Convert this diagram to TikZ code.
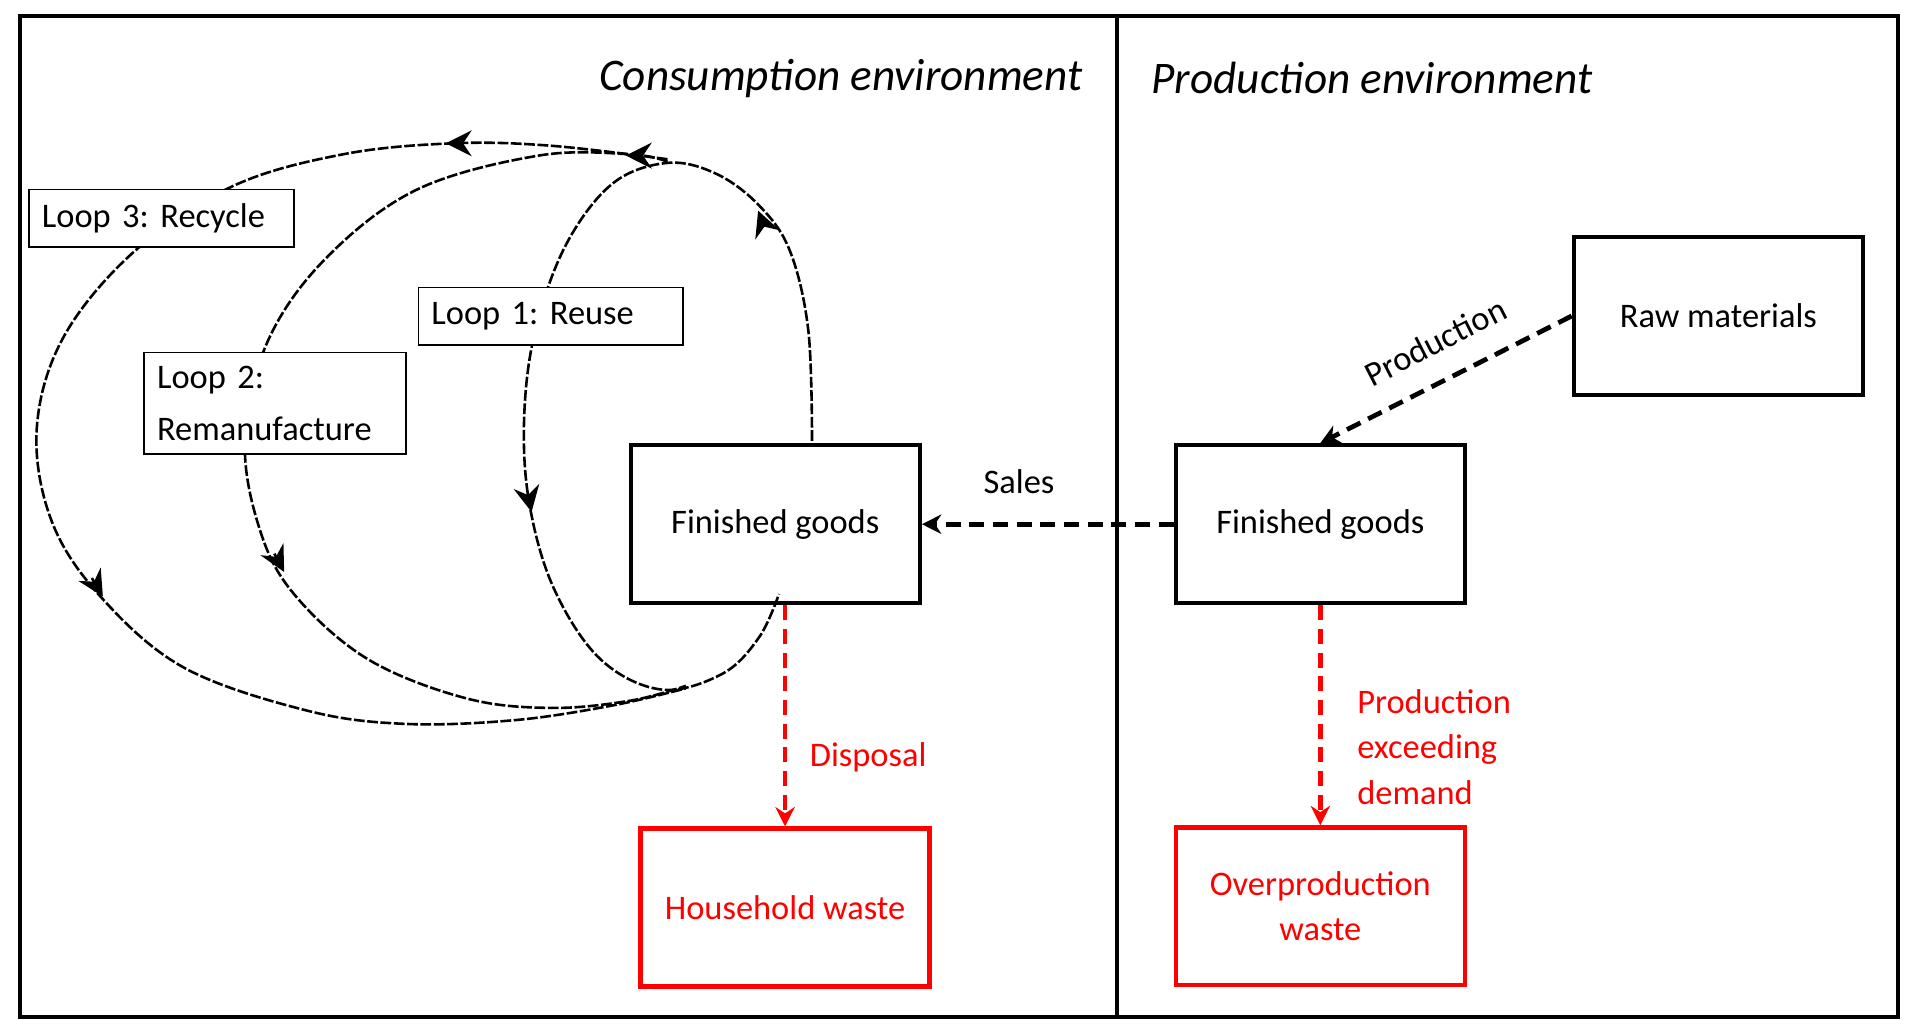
\documentclass[tikz,border=0pt]{standalone}
\usepackage{fontspec}
\setmainfont{Carlito}
\usetikzlibrary{arrows.meta}
\frenchspacing
\begin{document}
\frenchspacing
\begin{tikzpicture}[x=0.02cm,y=-0.02cm,
  box/.style={draw,line width=2pt,minimum width=4.72cm,minimum height=2.58cm,align=center,font=\fontsize{16}{24}\selectfont},
  rbox/.style={box,draw=red,text=red},
  lbl/.style={draw,line width=0.8pt,align=left,font=\fontsize{16}{24}\selectfont\frenchspacing,inner ysep=0pt,inner xsep=6pt,anchor=north west,text width=3.9cm},
  flow/.style={line width=2.2pt,dash pattern=on 7pt off 4pt,-{Stealth[length=9pt,width=9pt]}},
  loop/.style={line width=1.2pt,dash pattern=on 5pt off 1.2pt},
  tip/.style={line width=1.2pt,-{Stealth[length=12pt,width=12pt,inset=4pt]}},
  txt/.style={font=\fontsize{16}{24}\selectfont}]
\useasboundingbox (0,0) rectangle (1566,842);
\draw[line width=1.8pt] (16,13) rectangle (1550,830);
\draw[line width=1.8pt] (912,13) -- (912,830);
\node[font=\itshape\fontsize{21}{25}\selectfont,anchor=east] (t1) at (890,64) {Consumption environment};
\node[font=\itshape\fontsize{21}{25}\selectfont,anchor=west] (t2) at (934,64) {Production environment};
\node[box] (raw) at (1403,258) {Raw materials};
\node[box] (fgr) at (1078,428) {Finished goods};
\node[box] (fgl) at (633,428) {Finished goods};
\node[rbox] (hw) at (641,741) {Household waste};
\node[rbox,font=\fontsize{16}{21}\selectfont] (ow) at (1078,740) {Overproduction\\waste};
\draw[flow] (fgr.west) -- (fgl.east);
\node[txt] (sales) at (832,393) {Sales};
\draw[flow] (raw.west) -- (fgr.north);
\node[txt,rotate=27] (prod) at (1172,279) {Production};
\draw[flow,red] (fgl.south -| hw.north) -- (hw.north);
\node[txt,red,anchor=west] (disp) at (655,618) {Disposal};
\draw[flow,red] (fgr.south) -- (ow.north);
\node[txt,red,anchor=north west,align=left,font=\fontsize{16}{21}\selectfont] (ped) at (1102,557) {Production\\exceeding\\demand};
% loops
\draw[loop] plot[smooth,tension=0.6] coordinates {(663,360) (660,270) (645,205) (620,168) (585,142) (545,133) (500,150) (462,200) (437,270) (428,340) (432,410) (452,480) (490,538) (540,563) (590,550) (620,520) (636,485)};
\draw[loop] plot[smooth,tension=0.6] coordinates {(545,132) (515,126) (440,127) (340,155) (265,212) (218,280) (200,360) (212,432) (240,485) (300,538) (380,570) (450,578) (515,572) (560,560)};
\draw[loop] plot[smooth,tension=0.6] coordinates {(545,130) (450,119) (370,117) (280,126) (190,152) (110,205) (52,275) (30,350) (42,425) (82,487) (150,545) (250,580) (330,591) (420,588) (500,576) (560,562)};
\draw[tip] (624,185) -- (619,172);
\draw[tip] (524,127) -- (511,127);
\draw[tip] (378,117) -- (364,117);
\draw[tip] (431,403) -- (434,418);
\draw[tip] (224,452) -- (232,467);
\draw[tip] (75,472) -- (84,487);
\node[lbl,fill=white,minimum height=0.94cm] (l3) at (23,154) {Loop 3: Recycle};
\node[lbl,fill=white,minimum height=0.94cm] (l1) at (341,234) {Loop 1: Reuse};
\node[lbl,fill=white,minimum height=1.66cm,text width=3.85cm] (l2) at (117,287) {Loop 2:\\Remanufacture};
\end{tikzpicture}
\end{document}
